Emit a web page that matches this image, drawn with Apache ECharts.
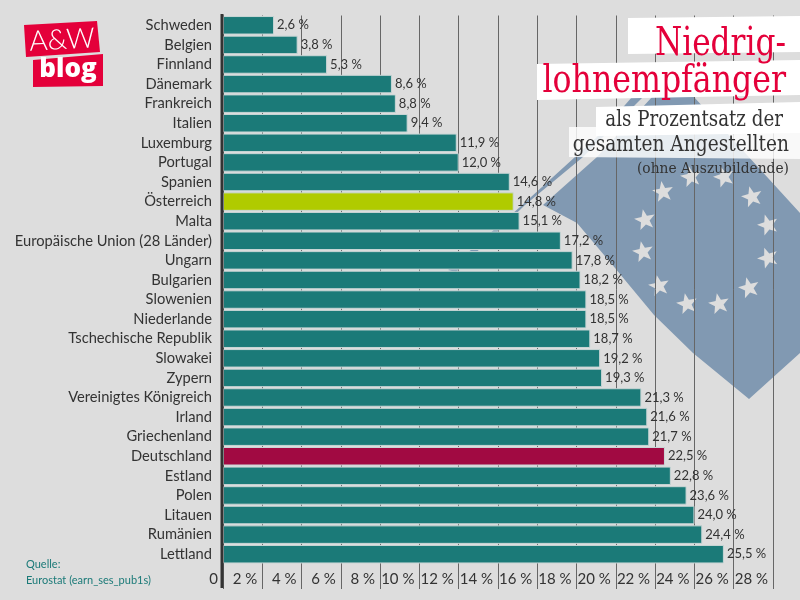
<!DOCTYPE html>
<html>
<head>
<meta charset="utf-8">
<style>html,body{margin:0;padding:0;background:#ddd}#main{width:800px;height:600px}</style>
<script src="https://cdn.jsdelivr.net/npm/echarts@6/dist/echarts.min.js"></script>
</head>
<body>
<div id="main"></div>
<script>
var laender = ['Schweden','Belgien','Finnland','Dänemark','Frankreich','Italien','Luxemburg','Portugal','Spanien','Österreich','Malta','Europäische Union (28 Länder)','Ungarn','Bulgarien','Slowenien','Niederlande','Tschechische Republik','Slowakei','Zypern','Vereinigtes Königreich','Irland','Griechenland','Deutschland','Estland','Polen','Litauen','Rumänien','Lettland'];
var anteile = [2.6,3.8,5.3,8.6,8.8,9.4,11.9,12.0,14.6,14.8,15.1,17.2,17.8,18.2,18.5,18.5,18.7,19.2,19.3,21.3,21.6,21.7,22.5,22.8,23.6,24.0,24.4,25.5];
var sterne = [[691,177,.2],[724,177,.3],[663,192,.15],[752,197,.25],[645,220,.2],[768,225,.3],[643,252,.2],[768,258,.35],[659,286,.2],[749,288,.25],[687,304,.2],[719,304,.2]];

var teal = '#1b7a78', fahne = '#8199b2', rot = '#e4003a';
var schrift = 'Lato';

function sternPunkte(r, rot0) {
	var p = [];
	for (var i = 0; i < 10; i++) {
		var rad = i % 2 ? r * 0.42 : r;
		var a = rot0 + i * Math.PI / 5 - Math.PI / 2;
		p.push([rad * Math.cos(a), rad * Math.sin(a)]);
	}
	return p;
}

var grafik = [
	// Fahne hinter dem Gitter
	{type:'polygon', z:-2, silent:true, shape:{points:[[448,270],[520,207],[597,137],[632,97],[643,97],[583,157],[525,205],[456,272]]}, style:{fill:fahne}},
	{type:'polygon', z:-2, silent:true, shape:{points:[[543,205],[597,157],[652,97],[694,97],[800,213],[800,353],[749,399],[693,353],[654,315],[615,268],[577,223]]}, style:{fill:fahne}},
	// Achse
	{type:'line', z:5, silent:true, shape:{x1:222,y1:14,x2:222,y2:588}, style:{stroke:'#333',lineWidth:3}},
	// Titelkästen
	{type:'polygon', z:20, silent:true, shape:{points:[[628,18],[800,16],[800,52],[628,54]]}, style:{fill:'#fff'}},
	{type:'polygon', z:20, silent:true, shape:{points:[[537,64],[800,60],[800,95],[537,100]]}, style:{fill:'#fff'}},
	{type:'polygon', z:21, silent:true, shape:{points:[[569,127],[800,127],[800,159],[569,157]]}, style:{fill:'rgba(255,255,255,0.82)'}},
	{type:'polygon', z:22, silent:true, shape:{points:[[596,107],[800,102],[800,133],[596,136]]}, style:{fill:'#fff'}},
	{type:'text', z:30, silent:true, x:786, y:64, scaleX:0.8, style:{text:'Niedrig-', fill:rot, font:'39px "DejaVu Serif"', textAlign:'right', textVerticalAlign:'bottom'}},
	{type:'text', z:30, silent:true, x:786, y:101, scaleX:0.81, style:{text:'lohnempfänger', fill:rot, font:'39px "DejaVu Serif"', textAlign:'right', textVerticalAlign:'bottom'}},
	{type:'text', z:30, silent:true, x:783, y:131, scaleX:0.83, style:{text:'als Prozentsatz der', fill:'#333', font:'22px "DejaVu Serif"', textAlign:'right', textVerticalAlign:'bottom'}},
	{type:'text', z:30, silent:true, x:789, y:156, scaleX:0.845, style:{text:'gesamten Angestellten', fill:'#333', font:'22px "DejaVu Serif"', textAlign:'right', textVerticalAlign:'bottom'}},
	{type:'text', z:30, silent:true, x:789, y:177, scaleX:0.92, style:{text:'(ohne Auszubildende)', fill:'#333', font:'15px "DejaVu Serif"', textAlign:'right', textVerticalAlign:'bottom'}},
	// Logo
	{type:'polygon', z:30, silent:true, shape:{points:[[24,25],[97,21],[100,52],[26,57]]}, style:{fill:rot}},
	{type:'polygon', z:30, silent:true, shape:{points:[[33,60],[103,54],[103,86],[33,87]]}, style:{fill:rot}},
	{type:'text', z:31, silent:true, x:62, y:40, rotation:0.05, style:{text:'A&W', fill:'#fff', font:'300 28px Lato', textAlign:'center', textVerticalAlign:'middle'}},
	{type:'text', z:31, silent:true, x:68, y:70, style:{text:'blog', fill:'#fff', font:'800 26px "Open Sans"', textAlign:'center', textVerticalAlign:'middle'}},
	// Quelle
	{type:'text', z:30, silent:true, x:26, y:564, style:{text:'Quelle:', fill:teal, font:'11px '+schrift, textVerticalAlign:'middle'}},
	{type:'text', z:30, silent:true, x:26, y:580, style:{text:'Eurostat (earn_ses_pub1s)', fill:teal, font:'11px '+schrift, textVerticalAlign:'middle'}}
];
sterne.forEach(function (s) {
	grafik.push({type:'polygon', z:-1, silent:true, x:s[0], y:s[1], rotation:s[2], shape:{points:sternPunkte(11, 0)}, style:{fill:'#ddd'}});
});

var myChart = echarts.init(document.getElementById('main'));

var option = {
	animation: false,
	backgroundColor: '#ddd',
	grid: {left:223, right:27, top:15.5, bottom:36, containLabel:false},
	xAxis: {
		type:'value', min:0, max:28, interval:2,
		axisLine:{show:false},
		axisTick:{show:true, length:25, lineStyle:{color:'#666', width:1}},
		splitLine:{show:true, lineStyle:{color:'#666', width:1}},
		axisLabel:{
			margin:8, align:'right', padding:[0,5,0,0], color:'#333', fontFamily:schrift, fontSize:15,
			showMinLabel:true, showMaxLabel:true, hideOverlap:false,
			formatter:function (v) { return v === 0 ? '0' : v + ' %'; }
		}
	},
	yAxis: {
		type:'category', inverse:true, data:laender,
		axisLine:{show:false}, axisTick:{show:false}, splitLine:{show:false},
		axisLabel:{margin:11, color:'#333', fontFamily:schrift, fontSize:14.7, interval:0}
	},
	series: [{
		type:'bar',
		data:anteile,
		barWidth:18.5,
		itemStyle:{
			borderColor:'#c9d6d6', borderWidth:1,
			color:function (p) {
				if (p.name === 'Österreich') return '#b0cb00';
				if (p.name === 'Deutschland') return '#a10a42';
				return teal;
			}
		},
		label:{
			show:true, position:'right', distance:3, color:'#333', fontFamily:schrift, fontSize:13,
			formatter:function (p) { return p.value.toFixed(1).replace('.', ',') + ' %'; }
		}
	}],
	graphic:{elements:grafik}
};

myChart.setOption(option);
</script>
</body>
</html>
